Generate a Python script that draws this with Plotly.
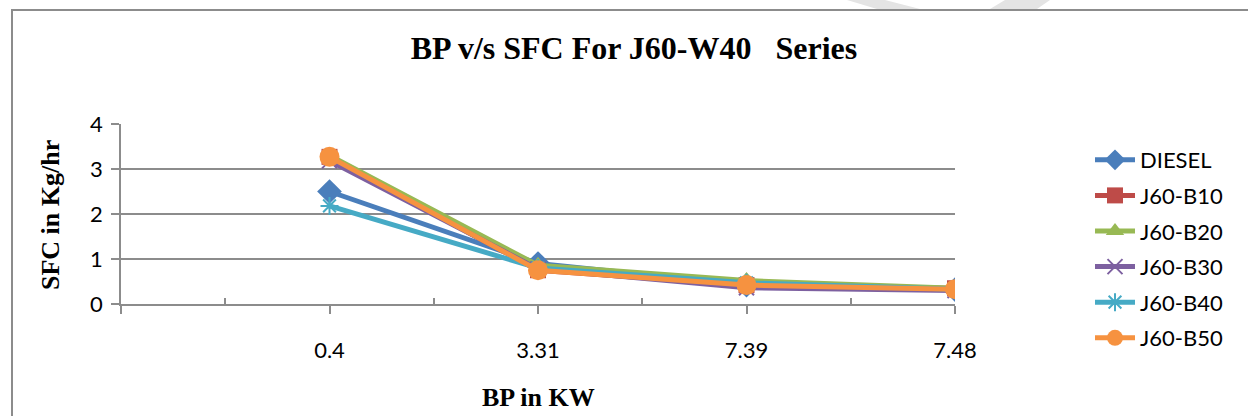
import plotly.graph_objects as go

# ---- data ----
bp_labels = ["0.4", "3.31", "7.39", "7.48"]
series_names = ["DIESEL", "J60-B10", "J60-B20", "J60-B30", "J60-B40", "J60-B50"]
diesel = [2.50, 0.90, 0.42, 0.32]
j60_b10 = [3.27, 0.75, 0.42, 0.35]
j60_b20 = [3.30, 0.86, 0.52, 0.35]
j60_b30 = [3.18, 0.78, 0.36, 0.30]
j60_b40 = [2.18, 0.80, 0.47, 0.33]
j60_b50 = [3.27, 0.75, 0.42, 0.33]

values = [diesel, j60_b10, j60_b20, j60_b30, j60_b40, j60_b50]
colors = ["#4A7EBB", "#BE4B48", "#98B954", "#7D60A0", "#46AAC5", "#F69240"]
symbols = ["diamond", "square", "triangle-up", "x-thin-open", "asterisk-open", "circle"]
msizes = [19, 16, 17, 15, 15, 20]

W, H = 1248, 416
L, R, T, B = 121, 955, 124, 304


def px(x):
    return (x - L) / (R - L)


def py(y):
    return (B - y) / (B - T)


xpos = list(range(1, len(bp_labels) + 1))

fig = go.Figure()
for i, (name, vals) in enumerate(zip(series_names, values)):
    open_sym = symbols[i].endswith("open")
    fig.add_trace(go.Scatter(
        x=xpos, y=vals, name=name, mode="lines+markers",
        legendgroup=name,
        line=dict(color=colors[i], width=5),
        marker=dict(symbol=symbols[i], size=msizes[i], color=colors[i],
                    line=dict(color=colors[i], width=2 if open_sym else 0)),
    ))

axis_col = "#8C8C8C"
fig.update_layout(
    width=W, height=H,
    margin=dict(l=L, r=W - R, t=T, b=H - B),
    paper_bgcolor="white", plot_bgcolor="white",
    title=dict(text="BP v/s SFC For J60-W40\u00a0\u00a0\u00a0Series",
               x=634 / W, y=1 - 48 / H, xref="container", yref="container",
               xanchor="center", yanchor="middle",
               font=dict(family="Liberation Serif", size=32, color="black", weight="bold")),
    showlegend=True,
    legend=dict(x=px(1090), y=py(139), xanchor="left", yanchor="top",
                traceorder="grouped", tracegroupgap=4, maxheight=400,
                font=dict(family="Lato", size=22, color="black"),
                bgcolor="rgba(0,0,0,0)", itemwidth=40),
    xaxis=dict(range=[0, 4], tickmode="array", tickvals=[0, 1, 2, 3, 4],
               ticktext=[""] + bp_labels, showgrid=False, zeroline=False,
               showline=True, linecolor=axis_col, linewidth=1.5,
               ticks="outside", ticklen=8, tickwidth=1.5, tickcolor=axis_col,
               ticklabelstandoff=18,
               tickfont=dict(family="Lato", size=22, color="black"),
               minor=dict(tickmode="array", tickvals=[0.5, 1.5, 2.5, 3.5],
                          ticks="inside", ticklen=6, tickwidth=1.5, tickcolor=axis_col)),
    yaxis=dict(range=[0, 4], tickmode="array", tickvals=[0, 1, 2, 3, 4],
               showgrid=True, gridcolor=axis_col, gridwidth=1.5, zeroline=False,
               showline=True, linecolor=axis_col, linewidth=1.5,
               ticks="outside", ticklen=8, tickwidth=1.5, tickcolor=axis_col,
               ticklabelstandoff=4,
               tickfont=dict(family="Lato", size=22, color="black")),
    annotations=[
        dict(text="<b>SFC in Kg/hr</b>", xref="paper", yref="paper",
             x=px(50), y=py(215), textangle=-90, showarrow=False,
             xanchor="center", yanchor="middle",
             font=dict(family="Liberation Serif", size=26, color="black")),
        dict(text="<b>BP in KW</b>", xref="paper", yref="paper",
             x=px(538), y=py(397), showarrow=False,
             xanchor="center", yanchor="middle",
             font=dict(family="Liberation Serif", size=26, color="black")),
    ],
    shapes=[
        dict(type="rect", xref="paper", yref="paper", layer="below",
             x0=px(12), x1=px(1270), y0=py(440), y1=py(10),
             line=dict(color="#8C8C8C", width=2), fillcolor="rgba(0,0,0,0)"),
        dict(type="path", xref="paper", yref="paper", layer="below",
             path=f"M{px(847)},{py(0)} L{px(885)},{py(0)} L{px(920)},{py(9)} L{px(877)},{py(9)} Z",
             fillcolor="#E4E4E4", line=dict(width=0)),
        dict(type="path", xref="paper", yref="paper", layer="below",
             path=f"M{px(1005)},{py(0)} L{px(1050)},{py(0)} L{px(1037)},{py(9)} L{px(990)},{py(9)} Z",
             fillcolor="#E4E4E4", line=dict(width=0)),
    ],
)

fig.write_html("out.html")
